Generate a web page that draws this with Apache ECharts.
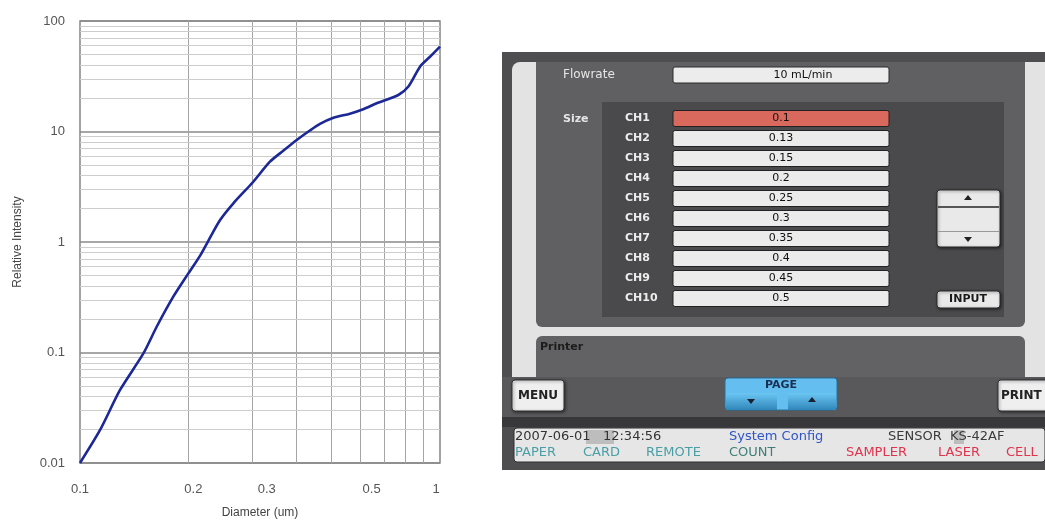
<!DOCTYPE html>
<html>
<head>
<meta charset="utf-8">
<script src="https://cdn.jsdelivr.net/npm/echarts@6/dist/echarts.min.js"></script>
<style>
html,body{margin:0;padding:0;background:#fff;}
#chart{width:1045px;height:520px;}
</style>
</head>
<body>
<div id="chart"></div>
<script>
// ---- Chart data ----
const diameters   = [0.1, 0.1137, 0.1292, 0.150, 0.1633, 0.1816, 0.200, 0.2154, 0.227, 0.245, 0.2667, 0.303, 0.337, 0.367, 0.400, 0.435, 0.464, 0.506, 0.562, 0.612, 0.667, 0.766, 0.817, 0.880, 0.938, 1.0];
const intensities = [0.01, 0.0199, 0.0458, 0.098, 0.171, 0.32, 0.52, 0.75, 1.02, 1.58, 2.24, 3.51, 5.33, 6.7, 8.38, 10.2, 11.7, 13.3, 14.5, 15.9, 18.0, 21.4, 25.5, 38.6, 47.5, 58.6];
const xTickValues = [0.1, 0.2, 0.3, 0.5, 1];
const xTickLabels = ['0.1', '0.2', '0.3', '0.5', '1'];
const yTickLabels = ['0.01', '0.1', '1', '10', '100'];
const xMinorGrid  = [0.2, 0.3, 0.4, 0.5, 0.6, 0.7, 0.8, 0.9];
const yDecades    = [0.01, 0.1, 1, 10];
const yMultipliers = [2, 3, 4, 5, 6, 7, 8, 9];

// ---- Instrument screen texts ----
const channels = ['CH1','CH2','CH3','CH4','CH5','CH6','CH7','CH8','CH9','CH10'];
const sizes    = ['0.1','0.13','0.15','0.2','0.25','0.3','0.35','0.4','0.45','0.5'];
const flowrate = '10 mL/min';
const statusTop = [
  {t:'2007-06-01   12:34:56', c:'#333333', x:515},
  {t:'System Config', c:'#2f55c8', x:729},
  {t:'SENSOR  KS-42AF', c:'#3a3a3a', x:888}
];
const statusBottom = [
  {t:'PAPER', c:'#4a9ea6', x:515},
  {t:'CARD', c:'#4a9ea6', x:583},
  {t:'REMOTE', c:'#4a9ea6', x:646},
  {t:'COUNT', c:'#3e7f78', x:729},
  {t:'SAMPLER', c:'#e0334d', x:846},
  {t:'LASER', c:'#e0334d', x:938},
  {t:'CELL', c:'#e0334d', x:1006}
];

// ---- label shifts to mimic the reference placement ----
const xLabelShift = {'0.1':0, '0.2':5, '0.3':15, '0.5':40, '1':-4};

const curve = diameters.map((d, i) => [d, intensities[i]]);

const minorLines = [];
xMinorGrid.forEach(v => minorLines.push({xAxis: v, lineStyle:{color:'#a4a4a4', width:1, type:'solid'}}));
yDecades.forEach(d => yMultipliers.forEach(m => {
  minorLines.push({yAxis: +(d*m).toPrecision(3), lineStyle:{color:'#cdcdcd', width:1, type:'solid'}});
}));

const rich = {};
xTickLabels.forEach((lab, i) => {
  const s = xLabelShift[lab];
  rich['l' + i] = {
    fontFamily:'Liberation Sans', fontSize:13, color:'#555',
    padding: s >= 0 ? [0,0,0,2*s] : [0,-2*s,0,0]
  };
});

// ---- UI graphics ----
const FONT = 'DejaVu Sans';
const g = [];
function rect(x,y,w,h,fill,r,extra){ g.push(Object.assign({type:'rect', shape:{x,y,width:w,height:h,r:r||0}, style:{fill}, silent:true}, extra||{})); }
function text(x,y,t,opts){ g.push({type:'text', x, y, silent:true, style:Object.assign({text:t, font:'bold 11px "'+FONT+'"', fill:'#eee', verticalAlign:'middle', align:'left'}, opts||{})}); }
function tri(cx,cy,up,fill){ const s=4; g.push({type:'polygon', silent:true, shape:{points: up ? [[cx-s,cy+2],[cx+s,cy+2],[cx,cy-3]] : [[cx-s,cy-2],[cx+s,cy-2],[cx,cy+3]]}, style:{fill:fill||'#222'}}); }
const btnShadow = {shadowBlur:3, shadowColor:'rgba(0,0,0,0.5)', shadowOffsetX:1, shadowOffsetY:1};

// outer frame
rect(502,52,543,418,'#4e4d50',0);
// light surround
rect(512,62,533,315,'#e3e3e3',[8,0,0,0]);
// main panel
rect(536,62,489,265,'#605f62',[0,0,6,6]);
// size box
rect(602,102,402,215,'#4a494b',0);
// printer box
rect(536,336,489,41,'#626164',[6,6,0,0]);
text(540,347,'Printer',{fill:'#1c1c1c'});
// bottom bar
rect(502,377,543,42,'#59585b',0);
rect(502,417,543,10,'#38383a',0);
// status bar
rect(514,428,531,34,'#e6e6e6',3,{style:{fill:'#e6e6e6', stroke:'#2e2e2e', lineWidth:1}});
rect(586,430,28,14,'#bdbdbd',0);
rect(954,430,10,14,'#bdbdbd',0);
statusTop.forEach(s => text(s.x,437,s.t,{font:'13px "'+FONT+'"', fill:s.c}));
statusBottom.forEach(s => text(s.x,453,s.t,{font:'13px "'+FONT+'"', fill:s.c}));

// labels
text(563,75,'Flowrate',{fill:'#e6e6e6', font:'12px "'+FONT+'"'});
text(563,119,'Size',{fill:'#e6e6e6', font:'bold 11px "'+FONT+'"'});
// flowrate field
rect(673,67,216,16,'#ececec',2,{style:{fill:'#ececec', stroke:'#2a2a2a', lineWidth:1}});
text(803,75,flowrate,{fill:'#111', align:'center', font:'11px "'+FONT+'"'});
// channel rows
channels.forEach((ch, i) => {
  const cy = 118.5 + 20*i;
  text(625, cy, ch, {fill:'#ececec', font:'bold 11px "'+FONT+'"'});
  const fill = i === 0 ? '#d9685d' : '#ebebeb';
  rect(673, cy-8, 216, 16, fill, 2, {style:{fill, stroke:'#222', lineWidth:1}});
  text(781, cy, sizes[i], {fill:'#111', align:'center', font:'11px "'+FONT+'"'});
});
// up/down
rect(937,190,63,57,'#e9e9e9',3,{style:Object.assign({fill:'#e9e9e9', stroke:'#2a2a2a', lineWidth:1}, btnShadow)});
rect(938,206,61,2,'#555',0);
rect(938,231,61,1,'#999',0);
tri(968,198,true);
tri(968,239,false);
// input
rect(937,291,63,17,'#e9e9e9',3,{style:Object.assign({fill:'#e9e9e9', stroke:'#2a2a2a', lineWidth:1}, btnShadow)});
text(968,299.5,'INPUT',{fill:'#1a1a1a', align:'center', font:'bold 11px "'+FONT+'"'});
// menu
rect(512,380,52,31,'#efefef',3,{style:Object.assign({fill:'#efefef', stroke:'#333', lineWidth:1}, btnShadow)});
text(538,395.5,'MENU',{fill:'#222', align:'center', font:'bold 12px "'+FONT+'"'});
// print
rect(998,380,60,31,'#efefef',3,{style:Object.assign({fill:'#efefef', stroke:'#333', lineWidth:1}, btnShadow)});
text(1001,395.5,'PRINT',{fill:'#222', font:'bold 12px "'+FONT+'"'});
// page
rect(725,378,112,32,'#64bff0',3,{style:{fill:'#64bff0', stroke:'#2a6f99', lineWidth:1}});
text(781,385,'PAGE',{fill:'#1a2f52', align:'center', font:'bold 11px "'+FONT+'"'});
const subFill = {type:'linear',x:0,y:0,x2:0,y2:1,colorStops:[{offset:0,color:'#6cc6f2'},{offset:1,color:'#2f86bb'}]};
rect(726,393,51,17,'#4aa8dd',0,{style:{fill:subFill}});
rect(788,393,48,17,'#4aa8dd',0,{style:{fill:subFill}});
tri(751,401,false,'#1a2030');
tri(812,400,true,'#1a2030');

const chart = echarts.init(document.getElementById('chart'), null, {renderer:'canvas'});
chart.setOption({
  animation:false,
  backgroundColor:'#ffffff',
  grid:{left:80, right:605, top:21, bottom:57, outerBoundsMode:'none', containLabel:false, show:true, borderColor:'#858585', borderWidth:1.5, backgroundColor:'transparent'},
  xAxis:{
    type:'log', logBase:10, min:0.1, max:1,
    name:'Diameter (um)', nameLocation:'middle', nameGap:44,
    nameTextStyle:{fontFamily:'Liberation Sans', fontSize:12, color:'#444'},
    axisLine:{show:false}, axisTick:{show:false},
    splitLine:{show:false},
    axisLabel:{
      customValues: xTickValues,
      margin:20,
      formatter: function(v){
        let idx = 0, best = Infinity;
        xTickValues.forEach((t,i)=>{ const d=Math.abs(Math.log10(t)-Math.log10(v)); if(d<best){best=d; idx=i;} });
        return '{l'+idx+'|'+xTickLabels[idx]+'}';
      },
      rich: rich
    }
  },
  yAxis:{
    type:'log', logBase:10, min:0.01, max:100,
    name:'Relative Intensity', nameLocation:'middle', nameGap:56,
    nameTextStyle:{fontFamily:'Liberation Sans', fontSize:12, color:'#444'},
    axisLine:{show:false}, axisTick:{show:false},
    splitLine:{show:true, lineStyle:{color:'#8a8a8a', width:1.5}},
    axisLabel:{
      margin:15, fontFamily:'Liberation Sans', fontSize:13, color:'#555',
      formatter: function(v){ const k = Math.round(Math.log10(v)) + 2; return yTickLabels[k] !== undefined ? yTickLabels[k] : ''; }
    }
  },
  series:[
    {
      name:'grid', type:'line', data:[], z:1, silent:true,
      markLine:{silent:true, symbol:['none','none'], label:{show:false}, animation:false, data:minorLines}
    },
    {
      name:'Relative Intensity', type:'line', data:curve, smooth:0.25, z:5,
      showSymbol:false, symbol:'none',
      lineStyle:{color:'#1c2896', width:2.6}
    }
  ],
  graphic: g
});
</script>
</body>
</html>
